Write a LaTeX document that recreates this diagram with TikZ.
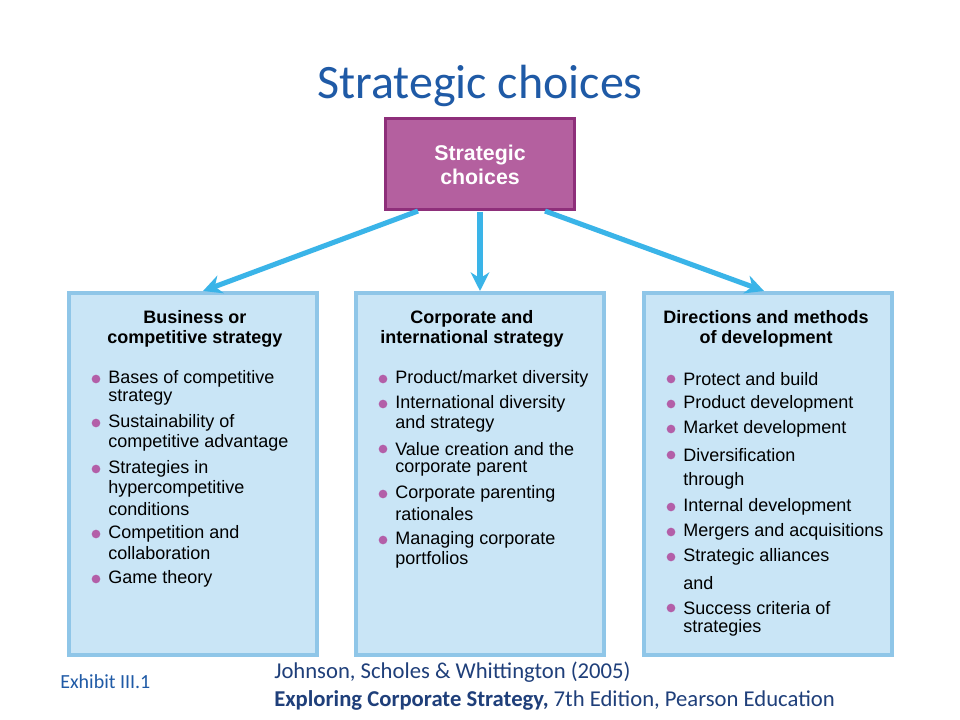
\documentclass[tikz,border=0pt]{standalone}
\usepackage{fontspec}
\setmainfont{Liberation Sans}
\newfontfamily\calib{Carlito}
\usetikzlibrary{arrows.meta}
\definecolor{titleblue}{HTML}{1F5AA6}
\definecolor{panelfill}{HTML}{C9E5F6}
\definecolor{paneledge}{HTML}{8FC6E8}
\definecolor{magbox}{HTML}{B4609F}
\definecolor{magedge}{HTML}{8E2F7A}
\definecolor{arrowc}{HTML}{3AB4E8}
\definecolor{bulletc}{HTML}{B35FA8}
\definecolor{refblue}{HTML}{1F3F7A}
\begin{document}
\begin{tikzpicture}[x=0.75pt,y=-0.75pt,
  panel/.style={draw=paneledge,line width=3pt,fill=panelfill,minimum width=186pt,minimum height=272pt,inner sep=0pt},
  head/.style={font=\fontsize{13.5}{15}\selectfont\bfseries,align=center,text=black},
  item/.style={font=\fontsize{13.5}{15}\selectfont,anchor=west,inner sep=0pt,text=black},
  dot/.style={circle,fill=bulletc,inner sep=0pt,minimum size=6.5pt},
  conn/.style={draw=arrowc,line width=3.8pt,-{Stealth[length=14pt,width=14pt]}}]
\useasboundingbox[fill=white] (0,0) rectangle (960,720);
\node[font=\calib\fontsize{36}{40}\selectfont,text=titleblue] (title) at (480,86) {Strategic choices};
\node[draw=magedge,line width=2pt,fill=magbox,minimum width=142pt,minimum height=68pt,inner sep=0pt] (top) at (480,164) {};
\node[font=\fontsize{16}{18.5}\selectfont\bfseries,text=white,align=center] (toptxt) at (480,165) {Strategic\\choices};
\node[panel] (p1) at (193,474) {};
\node[panel] (p2) at (480,474) {};
\node[panel] (p3) at (768,474) {};
\coordinate (a1) at (418,211); \coordinate (a2) at (480,212); \coordinate (a3) at (545,211);
\coordinate (e1) at (203,291); \coordinate (e2) at (480,291); \coordinate (e3) at (764,291);
\draw[conn] (a1) -- (e1);
\draw[conn] (a2) -- (e2);
\draw[conn] (a3) -- (e3);
\node[head] (h1) at (195,329) {Business or\\competitive strategy};
\node[head] (h2) at (472,329) {Corporate and\\international strategy};
\node[head] (h3) at (766,329) {Directions and methods\\of development};
% panel 1
\node[dot] (d11) at (96,379) {}; \node[item] (t11) at (108,379) {Bases of competitive};
\node[item] (t12) at (108,398) {strategy};
\node[dot] (d13) at (96,423) {}; \node[item] (t13) at (108,423) {Sustainability of};
\node[item] (t14) at (108,443) {competitive advantage};
\node[dot] (d15) at (96,469) {}; \node[item] (t15) at (108,469) {Strategies in};
\node[item] (t16) at (108,489) {hypercompetitive};
\node[item] (t17) at (108,509) {conditions};
\node[dot] (d18) at (96,534) {}; \node[item] (t18) at (108,534) {Competition and};
\node[item] (t19) at (108,553) {collaboration};
\node[dot] (d110) at (96,579) {}; \node[item] (t110) at (108,579) {Game theory};
% panel 2
\node[dot] (d21) at (383,379) {}; \node[item] (t21) at (395,379) {Product/market diversity};
\node[dot] (d22) at (383,404) {}; \node[item] (t22) at (395,404) {International diversity};
\node[item] (t23) at (395,424) {and strategy};
\node[dot] (d24) at (383,449) {}; \node[item] (t24) at (395,449) {Value creation and the};
\node[item] (t25) at (395,469) {corporate parent};
\node[dot] (d26) at (383,494) {}; \node[item] (t26) at (395,494) {Corporate parenting};
\node[item] (t27) at (395,514) {rationales};
\node[dot] (d28) at (383,540) {}; \node[item] (t28) at (395,540) {Managing corporate};
\node[item] (t29) at (395,560) {portfolios};
% panel 3
\node[dot] (d31) at (671,379) {}; \node[item] (t31) at (683,379) {Protect and build};
\node[dot] (d32) at (671,404) {}; \node[item] (t32) at (683,404) {Product development};
\node[dot] (d33) at (671,429) {}; \node[item] (t33) at (683,429) {Market development};
\node[dot] (d34) at (671,455) {}; \node[item] (t34) at (683,455) {Diversification};
\node[item] (t35) at (683,481) {through};
\node[dot] (d36) at (671,507) {}; \node[item] (t36) at (683,507) {Internal development};
\node[dot] (d37) at (671,532) {}; \node[item] (t37) at (683,532) {Mergers and acquisitions};
\node[dot] (d38) at (671,557) {}; \node[item] (t38) at (683,557) {Strategic alliances};
\node[item] (t39) at (683,583) {and};
\node[dot] (d310) at (671,608) {}; \node[item] (t310) at (683,608) {Success criteria of};
\node[item] (t311) at (683,628) {strategies};
% footer
\node[font=\calib\fontsize{15}{17}\selectfont,text=titleblue,anchor=west,inner sep=0pt] (ex) at (60,682) {Exhibit III.1};
\node[font=\calib\fontsize{17}{20}\selectfont,text=refblue,anchor=west,inner sep=0pt] (r1) at (274,672) {Johnson, Scholes \& Whittington (2005)};
\node[font=\calib\fontsize{17}{20}\selectfont,text=refblue,anchor=west,inner sep=0pt] (r2) at (274,700) {\textbf{Exploring Corporate Strategy,} 7th Edition, Pearson Education};
\end{tikzpicture}
\end{document}
